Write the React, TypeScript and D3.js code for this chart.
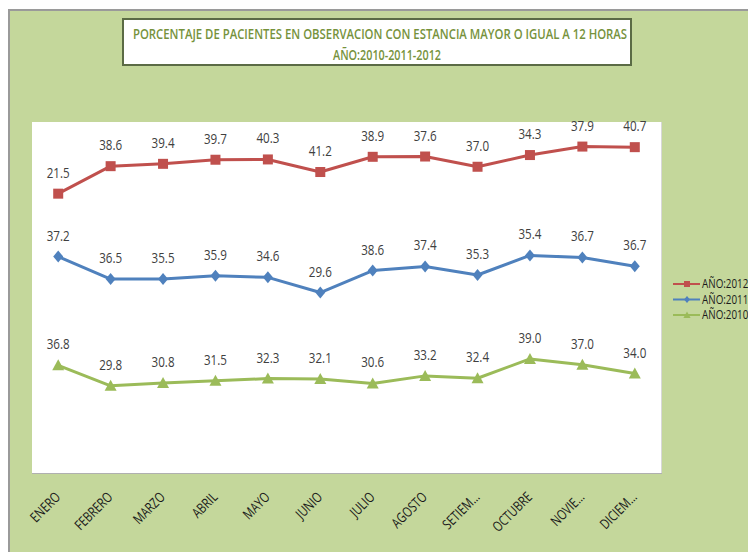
import React, { useLayoutEffect, useRef, useState } from "react";
import * as d3 from "d3";

const months = ["ENERO","FEBRERO","MARZO","ABRIL","MAYO","JUNIO","JULIO","AGOSTO","SETIEM...","OCTUBRE","NOVIE...","DICIEM..."];
const v2010 = [36.8,29.8,30.8,31.5,32.3,32.1,30.6,33.2,32.4,39.0,37.0,34.0];
const v2011 = [37.2,36.5,35.5,35.9,34.6,29.6,38.6,37.4,35.3,35.4,36.7,36.7];
const v2012 = [21.5,38.6,39.4,39.7,40.3,41.2,38.9,37.6,37.0,34.3,37.9,40.7];
const seriesNames = ["AÑO:2010","AÑO:2011","AÑO:2012"];
const colors = ["#9bbb59","#4f81bd","#c0504d"];
const titleLines = ["PORCENTAJE DE PACIENTES EN OBSERVACION CON ESTANCIA MAYOR O IGUAL A 12 HORAS","AÑO:2010-2011-2012"];

const W = 748, H = 552;
const plot = { x0: 32, x1: 661, y0: 122, y1: 473 };
const FONT = "'Open Sans', sans-serif";

function Marker({ kind, x, y, color, s = 1 }: { kind: number; x: number; y: number; color: string; s?: number }) {
  if (kind === 2) return <rect x={x - 5 * s} y={y - 5 * s} width={10 * s} height={10 * s} fill={color} />;
  if (kind === 1) return <path d={`M${x},${y - 6 * s}L${x + 5 * s},${y}L${x},${y + 6 * s}L${x - 5 * s},${y}Z`} fill={color} />;
  return <path d={`M${x},${y - 6 * s}L${x + 6 * s},${y + 5 * s}L${x - 6 * s},${y + 5 * s}Z`} fill={color} />;
}

function FitText({ x, y, width, children, ...rest }: any) {
  const ref = useRef<SVGTextElement>(null);
  const [sx, setSx] = useState(0.7);
  useLayoutEffect(() => {
    if (ref.current) {
      const w = ref.current.getComputedTextLength();
      if (w > 0) setSx(width / w);
    }
  }, [width]);
  return (
    <text ref={ref} transform={`translate(${x},${y}) scale(${sx},1)`} textAnchor="middle" {...rest}>
      {children}
    </text>
  );
}

export default function App() {
  const rows = months.map((m, i) => ({ m, a: v2010[i], b: v2011[i], c: v2012[i] }));
  const stacked = d3.stack<any>().keys(["a", "b", "c"])(rows);
  const raw = [v2010, v2011, v2012];
  const x = d3.scaleBand().domain(months).range([plot.x0, plot.x1]);
  const y = d3.scaleLinear().domain([0, 120]).range([plot.y1, plot.y0]);
  const cx = (m: string) => (x(m) as number) + x.bandwidth() / 2;
  const line = d3.line<any>().x((d: any) => cx(d.data.m)).y((d: any) => y(d[1]));
  const legendY = [315, 299.5, 284];

  return (
    <svg width={W} height={H} style={{ position: "absolute", left: 0, top: 0, background: "#fff" }} fontFamily={FONT}>
      <rect x={9} y={10} width={W + 10} height={H + 10} fill="#c4d79b" stroke="#9a9a9a" strokeWidth={2} />
      <rect x={plot.x0} y={plot.y0} width={plot.x1 - plot.x0} height={plot.y1 - plot.y0} fill="#ffffff" />
      <line x1={plot.x0} x2={plot.x1 + 1} y1={plot.y1 + 0.5} y2={plot.y1 + 0.5} stroke="#b0b0b0" />
      <line x1={plot.x1 + 0.5} x2={plot.x1 + 0.5} y1={plot.y0} y2={plot.y1} stroke="#d8d8d8" />
      <rect x={123} y={19} width={508} height={46} fill="#ffffff" stroke="#5b6b45" strokeWidth={2} />
      <FitText x={380} y={39} width={494} fontSize={15} fontWeight={600} fill="#76923c">{titleLines[0]}</FitText>
      <FitText x={387} y={60} width={108} fontSize={15} fontWeight={600} fill="#76923c">{titleLines[1]}</FitText>
      {stacked.map((s, si) => (
        <g key={si}>
          <path d={line(s as any) as string} fill="none" stroke={colors[si]} strokeWidth={3} strokeLinejoin="round" />
          {s.map((d: any, i: number) => (
            <Marker key={i} kind={si} x={cx(d.data.m)} y={y(d[1])} color={colors[si]} />
          ))}
          {s.map((d: any, i: number) => (
            <text key={"t" + i} transform={`translate(${cx(d.data.m)},${y(d[1]) - 16}) scale(0.83,1)`} textAnchor="middle" fontSize={14} fill="#404040">
              {raw[si][i].toFixed(1)}
            </text>
          ))}
        </g>
      ))}
      {months.map((m) => (
        <text key={m} transform={`translate(${cx(m) + 3},${plot.y1 + 25}) rotate(-45) scale(0.78,1)`} textAnchor="end" fontSize={14} fill="#1a1a1a">
          {m}
        </text>
      ))}
      {[2, 1, 0].map((si) => (
        <g key={si}>
          <line x1={673} x2={700} y1={legendY[si]} y2={legendY[si]} stroke={colors[si]} strokeWidth={2} />
          <Marker kind={si} x={687} y={legendY[si]} color={colors[si]} s={0.6} />
          <text transform={`translate(702,${legendY[si] + 4}) scale(0.82,1)`} fontSize={12} fill="#1a1a1a">{seriesNames[si]}</text>
        </g>
      ))}
    </svg>
  );
}
